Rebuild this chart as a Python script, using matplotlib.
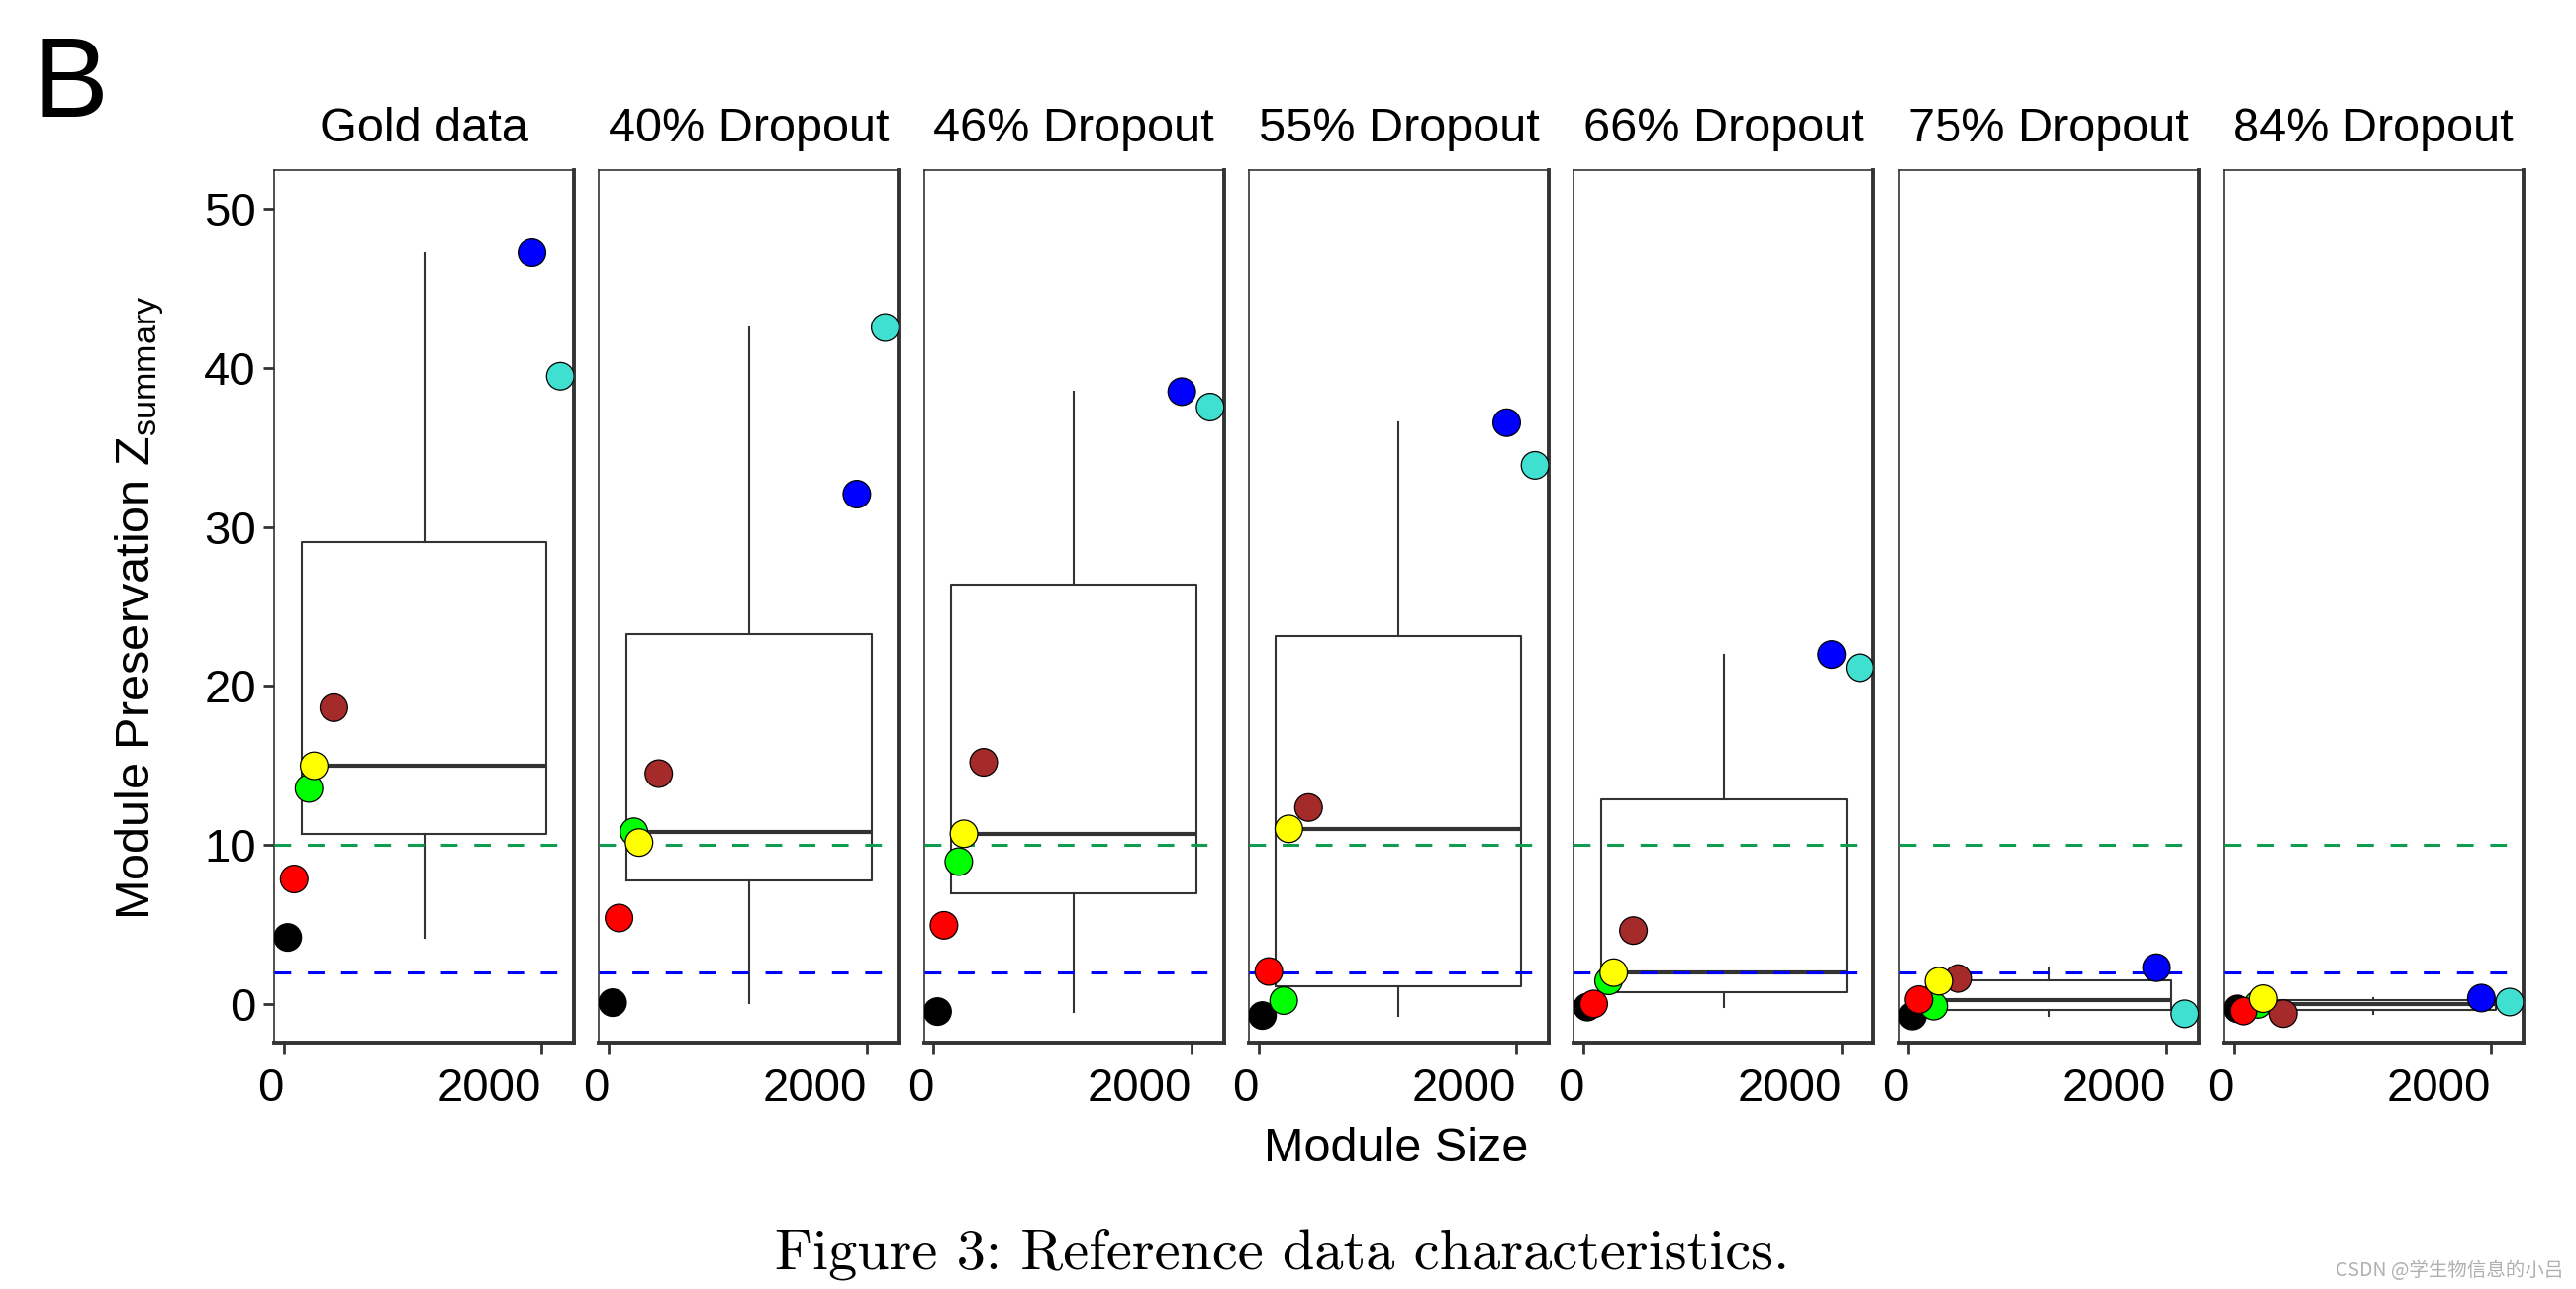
import numpy as np
import matplotlib
matplotlib.use("Agg")
import matplotlib.pyplot as plt

plt.rcParams['font.family'] = ['Liberation Sans', 'DejaVu Sans']
plt.rcParams['mathtext.fontset'] = 'custom'
plt.rcParams['mathtext.rm'] = 'Liberation Sans'
plt.rcParams['mathtext.it'] = 'Liberation Sans:italic'

# modules, in the order the points are drawn
modules = ['black', 'green', 'red', 'brown', 'yellow', 'blue', 'turquoise']
module_colors = ['#000000', '#00FF00', '#FF0000', '#A52A2A', '#FFFF00', '#0000FF', '#40E0D0']
module_sizes = [30, 195, 80, 388, 235, 1925, 2145]

panel_titles = ['Gold data', '40% Dropout', '46% Dropout', '55% Dropout',
                '66% Dropout', '75% Dropout', '84% Dropout']

# Zsummary per panel, same module order as above
z_gold = [4.21, 13.57, 7.88, 18.64, 14.99, 47.21, 39.46]
z_40 = [0.11, 10.85, 5.43, 14.50, 10.17, 32.05, 42.52]
z_46 = [-0.45, 8.97, 4.97, 15.21, 10.72, 38.49, 37.52]
z_55 = [-0.70, 0.24, 2.07, 12.37, 11.03, 36.54, 33.86]
z_66 = [-0.17, 1.48, 0.03, 4.64, 2.00, 21.98, 21.15]
z_75 = [-0.73, -0.11, 0.30, 1.63, 1.46, 2.31, -0.59]
z_84 = [-0.28, 0.00, -0.42, -0.58, 0.36, 0.40, 0.15]
z_panels = [z_gold, z_40, z_46, z_55, z_66, z_75, z_84]

thresholds = [10, 2]
threshold_colors = ['#0f9d4f', '#0000FF']

y_ticks = [0, 10, 20, 30, 40, 50]
x_ticks = [0, 2000]

W, H = 2603, 1303
fig = plt.figure(figsize=(W / 100, H / 100), dpi=100)

dark = '#333333'
sizes = np.array(module_sizes, dtype=float)
xmin, xmax = sizes.min(), sizes.max()
xr = xmax - xmin
center = (xmin + xmax) / 2.

left0, step, pw = 277, 328.3, 303
top, bottom = 172, 1054

for i, (title, z) in enumerate(zip(panel_titles, z_panels)):
    ax = fig.add_axes([(left0 + i * step) / W, 1 - bottom / H, pw / W, (bottom - top) / H])
    ax.boxplot(z, positions=[center], widths=[0.9 * xr], whis=1.5,
               showfliers=False, showcaps=False, manage_ticks=False,
               boxprops=dict(color=dark, linewidth=1.5),
               whiskerprops=dict(color=dark, linewidth=1.5),
               medianprops=dict(color=dark, linewidth=3.0), zorder=2)
    for t, c in zip(thresholds, threshold_colors):
        ax.axhline(t, color=c, linewidth=2.2, dashes=(5.5, 5.5), zorder=3)
    ax.scatter(sizes, z, s=400, c=module_colors, edgecolors='black',
               linewidths=0.9, zorder=4)
    ax.set_xlim(xmin - 0.05 * xr, xmax + 0.05 * xr)
    ax.set_ylim(-2.4, 52.4)
    ax.set_xticks(x_ticks)
    ax.set_yticks(y_ticks)
    for lab in ax.get_xticklabels():
        lab.set_horizontalalignment('right')
    for side in ['left', 'top']:
        ax.spines[side].set_linewidth(1.2)
        ax.spines[side].set_color(dark)
    for side in ['right', 'bottom']:
        ax.spines[side].set_linewidth(2.8)
        ax.spines[side].set_color(dark)
    ax.tick_params(axis='both', length=8, width=2, color=dark,
                   labelsize=34, labelcolor='black', pad=5)
    ax.tick_params(axis='x', pad=10)
    if i > 0:
        ax.tick_params(axis='y', left=False, labelleft=False)
    ax.set_title(title, fontsize=35, pad=21)

fig.text(33 / W, 1 - 118 / H, 'B', fontsize=83, ha='left', va='baseline')
fig.text(141 / W, 1 - 614 / H, r'Module Preservation $\mathrm{Z}_{\mathrm{summary}}$',
         fontsize=35, rotation=90, ha='center', va='center')
fig.text(1411 / W, 1 - 1162 / H, 'Module Size', fontsize=35, ha='center', va='center')
fig.text(1296 / W, 1 - 1282 / H, 'Figure 3: Reference data characteristics.',
         family='cmr10', fontsize=42, ha='center', va='baseline')
fig.text(2590 / W, 1 - 1290 / H, 'CSDN @学生物信息的小吕',
         family=['Noto Sans CJK SC', 'DejaVu Sans'], fontsize=14,
         color='#b0b0b0', ha='right', va='baseline')

fig.savefig('out.png', dpi=100)
